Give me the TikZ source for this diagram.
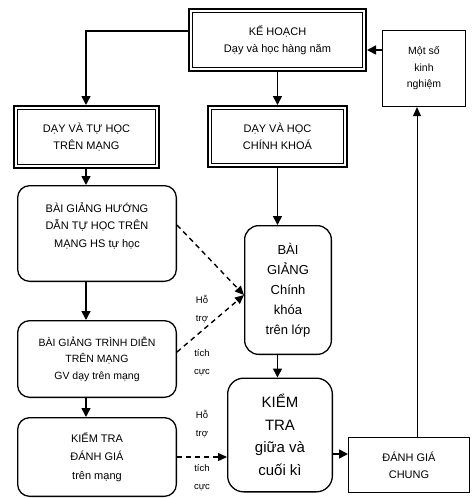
\documentclass[tikz,border=0pt]{standalone}
\usepackage{fontspec}
\setmainfont{Liberation Sans}
\usetikzlibrary{arrows.meta}
\begin{document}
\begin{tikzpicture}[x=1pt,y=-1pt,
  dbl/.style={draw, line width=2.4pt, inner sep=0, align=center, font=\fontsize{11}{17}\selectfont},
  rbox/.style={draw, line width=1.3pt, rounded corners=12pt, inner sep=0, align=center, font=\fontsize{11}{17.5}\selectfont},
  sbox/.style={draw, line width=1.2pt, inner sep=0, align=center, font=\fontsize{11}{17}\selectfont},
  bigtxt/.style={font=\fontsize{13}{20}\selectfont},
  hugetxt/.style={font=\fontsize{15}{22.5}\selectfont},
  arr/.style={-{Triangle[length=9pt,width=9pt]}, line width=1.6pt},
  thinarr/.style={-{Triangle[length=9pt,width=8pt]}, line width=1pt},
  darr/.style={-{Triangle[length=9pt,width=8pt]}, line width=1.4pt, dash pattern=on 5pt off 4pt},
  lbl/.style={inner sep=0, align=center, font=\fontsize{9.5}{18}\selectfont},
  inner/.style={line width=0.7pt}]
\useasboundingbox (0,0) rectangle (475,498);

% boxes
\node[dbl, minimum width=176.6pt, minimum height=61.6pt] (kh) at (277.5,40) {KẾ HOẠCH\\Dạy và học hàng năm};
\node[dbl, minimum width=144.6pt, minimum height=61.6pt] (dtu) at (86.5,137) {DẠY VÀ TỰ HỌC\\TRÊN MẠNG};
\node[dbl, minimum width=138.6pt, minimum height=60.6pt] (chk) at (277.5,136.5) {DẠY VÀ HỌC\\CHÍNH KHOÁ};
\node[sbox, minimum width=83pt, minimum height=76pt, font=\fontsize{10.5}{16.5}\selectfont] (ms) at (424,68.5) {Một số\\kinh\\nghiệm};
\node[rbox, minimum width=158.7pt, minimum height=95.7pt, text depth=17pt] (bgh) at (97,233.5) {BÀI GIẢNG HƯỚNG\\DẪN TỰ HỌC TRÊN\\MẠNG HS tự học};
\node[rbox, minimum width=158.7pt, minimum height=76.7pt, font=\fontsize{10.5}{16.5}\selectfont] (btd) at (97,359) {BÀI GIẢNG TRÌNH DIỄN\\TRÊN MẠNG\\GV dạy trên mạng};
\node[rbox, minimum width=158.7pt, minimum height=78.7pt, font=\fontsize{11}{18.5}\selectfont] (bde) at (97,457) {KIỂM TRA\\ĐÁNH GIÁ\\trên mạng};
\node[rbox, bigtxt, rounded corners=14pt, minimum width=86.7pt, minimum height=128.7pt] (bgc) at (288,290) {BÀI\\GIẢNG\\Chính\\khóa\\trên lớp};
\node[rbox, hugetxt, rounded corners=16pt, minimum width=104.7pt, minimum height=113.7pt] (kgc) at (280,435) {KIỂM\\TRA\\giữa và\\cuối kì};
\node[sbox, minimum width=120.8pt, minimum height=54.8pt] (dgc) at (409,465) {ĐÁNH GIÁ\\CHUNG};

% inner lines of double boxes
\foreach \n in {kh,dtu,chk}
  \draw[inner] ([shift={(4.3pt,-4.3pt)}]\n.north west) rectangle ([shift={(-4.3pt,4.3pt)}]\n.south east);

% labels
\node[lbl] (h1) at (202,309) {Hỗ\\trợ};
\node[lbl] (t1) at (202,362.5) {tích\\cực};
\node[lbl] (h2) at (202,424) {Hỗ\\trợ};
\node[lbl] (t2) at (202,477.5) {tích\\cực};

% helper coordinates
\coordinate (yl) at (0,31);
\coordinate (ym) at (0,50);
\coordinate (xl) at (86,0);
\coordinate (xv) at (417,0);
\coordinate (yd1) at (0,225);
\coordinate (yd2) at (0,352);
\coordinate (yt) at (0,295);
\coordinate (yk) at (0,454);

% solid arrows
\draw[arr] (kh.west |- yl) -| (dtu.north -| xl);
\draw[arr] (kh.south) -- (kh.south |- chk.north);
\draw[arr] (ms.west |- ym) -- (kh.east |- ym);
\draw[arr] (dtu.south -| xl) -- (bgh.north -| xl);
\draw[arr] (bgh.south -| xl) -- (btd.north -| xl);
\draw[arr] (btd.south -| xl) -- (bde.north -| xl);
\draw[arr] (chk.south) -- (chk.south |- bgc.north);
\draw[arr] (bgc.south -| chk.south) -- (kgc.north -| chk.south);
\draw[arr] (kgc.east |- yk) -- (dgc.west |- yk);
\draw[thinarr] (dgc.north -| xv) -- (ms.south -| xv);

% dashed arrows
\draw[darr] (bgh.east |- yd1) -- (bgc.west |- yt);
\draw[darr] (btd.east |- yd2) -- (bgc.west |- yt);
\draw[darr] (bde.east) -- (bde.east -| kgc.west);
\end{tikzpicture}
\end{document}
